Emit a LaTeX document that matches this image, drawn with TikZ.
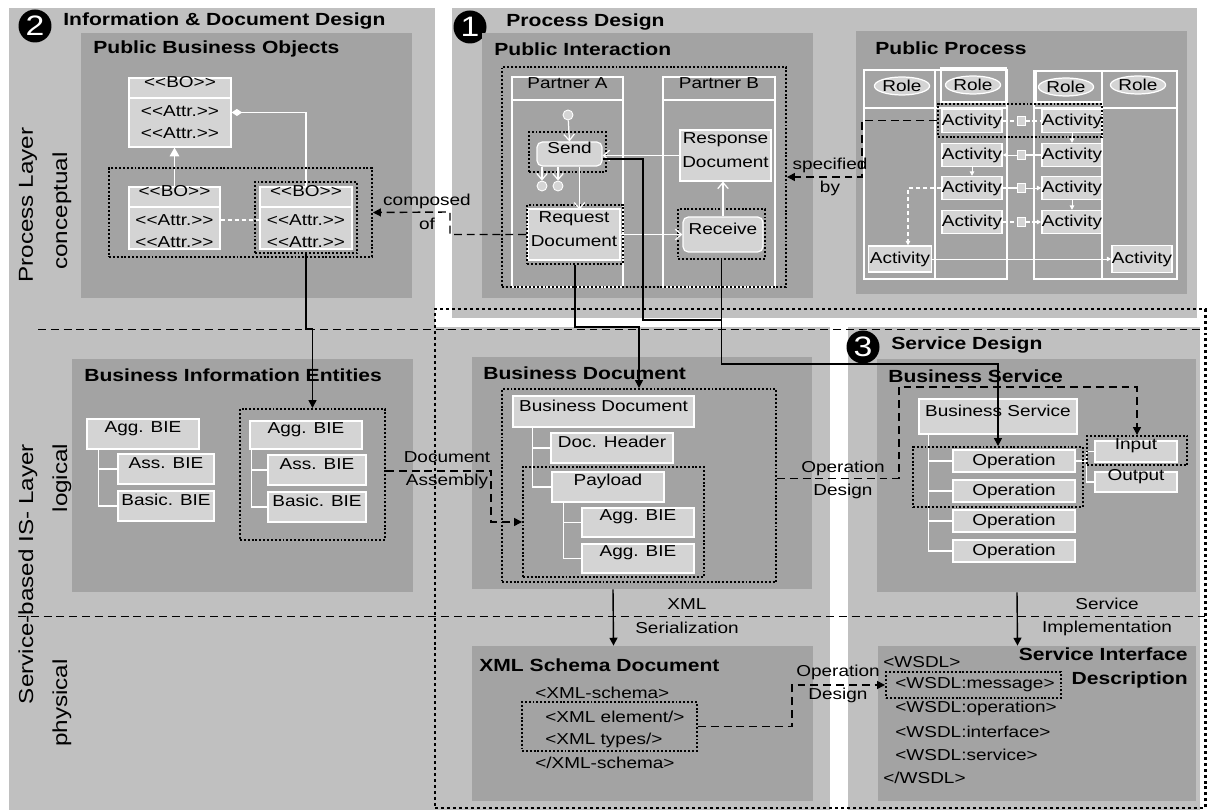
\documentclass[tikz,border=0pt]{standalone}
\usepackage{fontspec}
\setmainfont{Liberation Sans}[FakeStretch=1.2]
\usetikzlibrary{arrows.meta,fit,shapes.geometric}
\definecolor{panelgray}{RGB}{192,192,192}
\definecolor{areagray}{RGB}{163,163,163}
\definecolor{elemgray}{RGB}{212,212,212}
\newcommand{\boxfont}{\fontsize{9}{13.4}\selectfont}
\newcommand{\titlefont}{\bfseries\fontsize{10}{13.6}\selectfont}
\newcommand{\layerfont}{\fontsize{11.5}{13}\selectfont}
\tikzstyle{panelfill}=[fill=panelgray,draw=none]
\tikzstyle{areabox}=[fill=areagray,draw=none,inner sep=0pt]
\tikzstyle{areatitle}=[anchor=west,inner sep=0pt,font=\titlefont,align=left]
\tikzstyle{numcircle}=[circle,fill=black,text=white,minimum size=0.66cm,inner sep=0pt,font=\fontsize{16}{16}\selectfont]
\tikzstyle{layertext}=[inner sep=0pt,font=\layerfont,rotate=90]
\tikzstyle{elem}=[draw=white,fill=elemgray,line width=0.7pt,inner sep=0pt,font=\boxfont,align=center]
\tikzstyle{lanebox}=[draw=white,line width=0.7pt,inner sep=0pt,font=\boxfont]
\tikzstyle{lbl}=[inner sep=0pt,font=\boxfont,align=center]
\tikzstyle{codeline}=[anchor=west,inner sep=0pt,font=\boxfont]
\tikzstyle{grpbox}=[draw=black,line width=1.1pt,dash pattern=on 1.1pt off 1.1pt,inner sep=0pt]
\tikzstyle{biggroup}=[draw=black,line width=1.7pt,dash pattern=on 1.7pt off 1.7pt,inner sep=0pt]
\tikzstyle{conn}=[draw,line width=0.8pt,-{Triangle[length=4.5pt,width=4.5pt]}]
\tikzstyle{dconn}=[conn,dash pattern=on 4.5pt off 2.8pt]
\tikzstyle{layerline}=[draw,line width=0.5pt,dash pattern=on 4.5pt off 2.8pt]
\tikzstyle{wline}=[draw=white,line width=0.7pt]
\tikzstyle{warrow}=[wline,-{Straight Barb[length=3.5pt,width=6pt]}]
\tikzstyle{wsmall}=[wline,line width=0.5pt,-{Triangle[length=2.5pt,width=2.5pt]}]
\tikzstyle{wdash}=[wline,dash pattern=on 2.5pt off 1.5pt]
\tikzstyle{pstate}=[circle,fill=elemgray,draw=white,line width=0.5pt,minimum size=0.2cm,inner sep=0pt]
\tikzstyle{rolebox}=[ellipse,fill=elemgray,draw=white,line width=0.7pt,minimum width=1.1cm,minimum height=0.36cm,inner sep=0pt,font=\boxfont]
\tikzstyle{activity}=[elem,minimum width=1.2cm,minimum height=0.46cm]
\tikzstyle{docicon}=[fill=elemgray,draw=white,line width=0.5pt,minimum width=0.16cm,minimum height=0.19cm,inner sep=0pt]

\begin{document}
\begin{tikzpicture}[x=0.02cm,y=-0.02cm]
    \useasboundingbox (0,0) rectangle (1211,810);
    % Draw the design panels and the layer borders
    \path[panelfill] (9,8) rectangle (435,810);
    \path[panelfill] (435,327) rectangle (830,810);
    \path[panelfill] (452,8) rectangle (1197,318);
    \path[panelfill] (848,327) rectangle (1200,810);
    \path[layerline] (38,329) -- (1205,329);
    \path[layerline] (18,616) -- (1205,616);
    \node[biggroup,fit={(435,309) (1205,808)}] (svcGroup) {};

    % Panel numbers and titles
    \foreach \pos/\name/\n in {{(35,26)/num2/2},{(470,27)/num1/1},{(863,347)/num3/3}}
        \node[numcircle] (\name) at \pos {\n};
    \node[areatitle] (infoTitle) at (63,21) {Information \& Document Design};
    \node[areatitle] (procTitle) at (506,22) {Process Design};
    \node[areatitle] (servTitle) at (891,345) {Service Design};

    % Layer names
    \node[layertext] (lyProc) at (28,205) {Process Layer};
    \node[layertext] (lyConc) at (62,211) {conceptual};
    \node[layertext] (lyIS) at (28,574) {Service-based IS- Layer};
    \node[layertext] (lyLog) at (62,478) {logical};
    \node[layertext] (lyPhys) at (62,703) {physical};

    % Draw the dark areas with their titles
    \foreach \a/\b/\c/\d/\tx/\ty/\name/\title in {81/33/412/298/93/49/pboArea/Public Business Objects,
        482/33/813/298/494/49/piaArea/Public Interaction, 856/31/1187/294/875/48/pprArea/Public Process,
        72/359/413/592/84/375/bieArea/Business Information Entities, 472/357/812/589/483/373/bdocArea/Business Document,
        877/359/1196/592/888/376/bsvcArea/Business Service, 472/646/813/801/479/665/xsdArea/XML Schema Document}{
        \node[areabox,fit={(\a,\b) (\c,\d)}] (\name) {};
        \node[areatitle] (\name-t) at (\tx,\ty) {\title};
    }
    \node[areabox,fit={(878,646) (1196,801)}] (sidArea) {};
    \node[areatitle,anchor=east,align=right] (sidArea-t) at (1188,668) {Service Interface\\Description};

    % Public business objects
    \foreach \a/\b/\c/\d/\name in {129/78/231/147/boTop, 129/187/220/249/boLeft, 260/187/352/249/boRight}{
        \node[elem,fit={(\a,\b) (\c,\d)}] (\name) {};
        \node[elem,fit={(\a,\b) (\c,\b+20)}] (\name-h) {<{}<BO>{}>};
        \node[lbl] (\name-1) at ({(\a+\c)/2},\b+33) {<{}<Attr.>{}>};
        \node[lbl] (\name-2) at ({(\a+\c)/2},\b+55) {<{}<Attr.>{}>};
    }
    \draw[wline,-{Triangle[fill=white,length=5pt,width=5.5pt]}] (boLeft.north) -- (boLeft.north |- boTop.south);
    \draw[wline,-{Diamond[fill=white,length=6pt,width=4pt]}] (boRight.north) |- (boTop.east);
    \draw[wdash] (boLeft.east |- boLeft-1) -- (boRight.west |- boRight-1);
    \node[grpbox,fit={(109,168) (372,257)}] (boGroup) {};
    \node[grpbox,fit={(255,182) (357,253)}] (boSel) {};

    % Public interaction
    \foreach \a/\c/\name/\partner in {512/623/laneA/Partner A, 663/775/laneB/Partner B}{
        \node[lanebox,fit={(\a,77) (\c,287)}] (\name) {};
        \node[lanebox,fit={(\a,77) (\c,100)}] (\name-h) {\partner};
    }
    \node[grpbox,fit={(502,67) (786,287)}] (piGroup) {};
    \node[pstate] (start) at (568,115) {};
    \node[elem,rounded corners=3pt,fit={(537,142) (602,166)}] (send) {Send};
    \node[grpbox,fit={(529,132) (606,172)}] (sendGroup) {};
    \node[pstate] (end1) at (542,186) {};
    \node[pstate] (end2) at (558,186) {};
    \node[elem,fit={(528,209) (620,260)}] (req) {Request\\Document};
    \node[grpbox,fit={(527,205) (623,264)}] (reqGroup) {};
    \node[elem,fit={(680,130) (771,181)}] (resp) {Response\\Document};
    \node[elem,rounded corners=3pt,fit={(683,217) (763,252)}] (recv) {Receive};
    \node[grpbox,fit={(678,209) (765,259)}] (recvGroup) {};
    \draw[warrow] (start) -- (send.north);
    \draw[warrow] (send.south -| end1) -- (end1);
    \draw[warrow] (send.south -| end2) -- (end2);
    \draw[warrow] ([xshift=0.2cm]send.south) -- ++(0,43);
    \draw[warrow] (resp.west) -- (resp.west -| send.east);
    \draw[warrow] (req.east) -- (recv.west);
    \draw[warrow] (recv.north) -- (recv.north |- resp.south);

    % Public process
    \foreach \a/\b/\c/\name in {864/70/935/lane1, 935/70/1007/lane2, 1034/71/1102/lane3, 1102/71/1177/lane4}{
        \node[lanebox,fit={(\a,\b) (\c,279)}] (\name) {};
        \node[lanebox,fit={(\a,\b) (\c,108)}] (\name-h) {};
    }
    \node[lanebox,fit={(941,68) (1006,102)}] (lane2-r) {};
    \node[lanebox,fit={(1036,71) (1102,102)}] (lane3-r) {};
    \foreach \pos/\name in {{(902,86)/role1},{(973,85)/role2},{(1066,87)/role3},{(1138,85)/role4}}
        \node[rolebox] (\name) at \pos {Role};
    \foreach \y/\i in {121/1, 155/2, 188/3, 222/4}{
        \node[activity] (pa\i) at (972,\y) {Activity};
        \node[activity] (pb\i) at (1072,\y) {Activity};
        \node[docicon] (doc\i) at (1021,\y) {};
    }
    \node[activity,minimum width=1.26cm,minimum height=0.52cm] (pc) at (900,259) {Activity};
    \node[activity,minimum height=0.54cm] (pd) at (1142,259) {Activity};
    \draw[wdash] (pa1) -- (doc1);
    \draw[wdash] (doc1) -- (pb1);
    \draw[wline] (pb2) -- (doc2);
    \draw[wsmall] (doc2) -- (pa2);
    \draw[wline] (pa3) -- (doc3);
    \draw[wsmall] (doc3) -- (pb3);
    \draw[wdash] (pa4) -- (doc4);
    \draw[wdash,-{Triangle[length=2.5pt,width=2.5pt]}] (doc4) -- (pb4);
    \foreach \source/\dest in {pb1/pb2, pa2/pa3, pb3/pb4, pc/pd}
        \draw[wsmall] (\source) -- (\dest);
    \draw[wdash,-{Triangle[length=2.5pt,width=2.5pt]}] (pa3.west) -| ([xshift=0.16cm]pc.north);
    \node[grpbox,fit={(938,104) (1102,137)}] (actGroup) {};

    % Business information entities
    \foreach \a/\b/\c/\d/\name/\txt in {87/419/199/449/bieA/Agg. BIE, 118/454/214/484/bieB/Ass. BIE,
        118/491/214/521/bieC/Basic. BIE, 250/421/362/449/bieD/Agg. BIE, 268/455/366/485/bieE/Ass. BIE,
        268/492/366/522/bieF/Basic. BIE}
        \node[elem,fit={(\a,\b) (\c,\d)}] (\name) {\txt};
    \foreach \name in {bieB, bieC}
        \draw[wline] (bieA.south west) ++(12,0) |- (\name.west);
    \foreach \name in {bieE, bieF}
        \draw[wline] (bieD.south west) ++(2,0) |- (\name.west);
    \node[grpbox,fit={(240,409) (385,540)}] (bieGroup) {};

    % Business document
    \foreach \a/\b/\c/\d/\name/\txt in {513/396/694/427/bdRoot/Business Document, 551/433/673/463/bdHead/Doc. Header,
        552/472/664/502/bdPay/Payload, 582/508/694/537/bdAgg1/Agg. BIE, 582/544/694/573/bdAgg2/Agg. BIE}
        \node[elem,fit={(\a,\b) (\c,\d)}] (\name) {\txt};
    \foreach \name in {bdHead, bdPay}
        \draw[wline] (bdRoot.south west) ++(20,0) |- (\name.west);
    \foreach \name in {bdAgg1, bdAgg2}
        \draw[wline] (bdPay.south west) ++(12,0) |- (\name.west);
    \node[grpbox,fit={(523,467) (704,577)}] (payGroup) {};
    \node[grpbox,fit={(502,389) (776,582)}] (bdGroup) {};

    % Business service
    \node[elem,fit={(919,399) (1077,434)}] (bsRoot) {Business Service};
    \foreach \y/\i in {461/1, 491/2, 521/3, 551/4}{
        \node[elem,minimum width=2.44cm,minimum height=0.44cm] (op\i) at (1014,\y) {Operation};
        \draw[wline] (bsRoot.south west) ++(10,0) |- (op\i.west);
    }
    \node[elem,fit={(1095,441) (1177,462)}] (inBox) {Input};
    \node[elem,fit={(1095,472) (1177,492)}] (outBox) {Output};
    \foreach \name in {inBox, outBox}
        \draw[wline] (op1.east) -- ++(11,0) |- (\name.west);
    \node[grpbox,fit={(913,447) (1083,507)}] (opGroup) {};
    \node[grpbox,fit={(1087,436) (1187,465)}] (inGroup) {};

    % XML schema document
    \node[codeline] (xsOpen) at (535,693) {<XML-schema>};
    \node[codeline] (xsElem) at (545,717) {<XML element/>};
    \node[codeline] (xsType) at (545,740) {<XML types/>};
    \node[codeline] (xsClose) at (535,763) {</XML-schema>};
    \node[grpbox,fit={(522,702) (697,751)}] (xsGroup) {};

    % Service interface description
    \node[codeline] (wsOpen) at (883,662) {<WSDL>};
    \node[codeline] (wsMsg) at (895,685) {<WSDL:message>};
    \node[codeline] (wsOper) at (895,708) {<WSDL:operation>};
    \node[codeline] (wsIntf) at (895,732) {<WSDL:interface>};
    \node[codeline] (wsServ) at (895,755) {<WSDL:service>};
    \node[codeline] (wsClose) at (883,778) {</WSDL>};
    \node[grpbox,fit={(886,672) (1061,698)}] (msgGroup) {};

    % Connect the design artefacts
    \draw[dconn] (reqGroup.west) -| (450,212) -- (boGroup.east);
    \node[lbl] (compLbl) at (427,212) {composed\\of};
    \draw[dconn] (actGroup.west) -| (862,177) -- (piGroup.east);
    \node[lbl] (specLbl) at (830,177) {specified\\by};
    \draw[conn] (boSel.south) -- (306,329) -| (bieGroup.north);
    \draw[dconn] ([yshift=0.07cm]bieGroup.east) -| (491,522) -- (payGroup.west);
    \node[lbl] (asmLbl) at (447,470) {Document\\Assembly};
    \draw[conn] (reqGroup.south) -- (575,327) -| (bdGroup.north);
    \coordinate (joint) at (721.5,320);
    \draw[conn,-] ([yshift=-0.1cm]send.east) -| (643,320) -- (joint);
    \draw[conn] (recvGroup.south) -- ++(0,104) -| (opGroup.north);
    \draw[dconn] ([yshift=0.14cm]bdGroup.east) -| (899,387) -| (inGroup.north);
    \node[lbl] (opdLbl1) at (843,480) {Operation\\Design};
    \draw[conn] ([xshift=-0.58cm]bdocArea.south) -- ([xshift=-0.58cm]xsdArea.north);
    \node[lbl] (serLbl) at (687,616) {XML\\Serialization};
    \draw[conn] ([xshift=-0.39cm]bsvcArea.south) -- ([xshift=-0.39cm]sidArea.north);
    \node[lbl] (implLbl) at (1107,617) {Service\\Implementation};
    \draw[dconn] (xsGroup.east) -| (792,685) -- (msgGroup.west);
    \node[lbl] (opdLbl2) at (838,684) {Operation\\Design};
\end{tikzpicture}
\end{document}
